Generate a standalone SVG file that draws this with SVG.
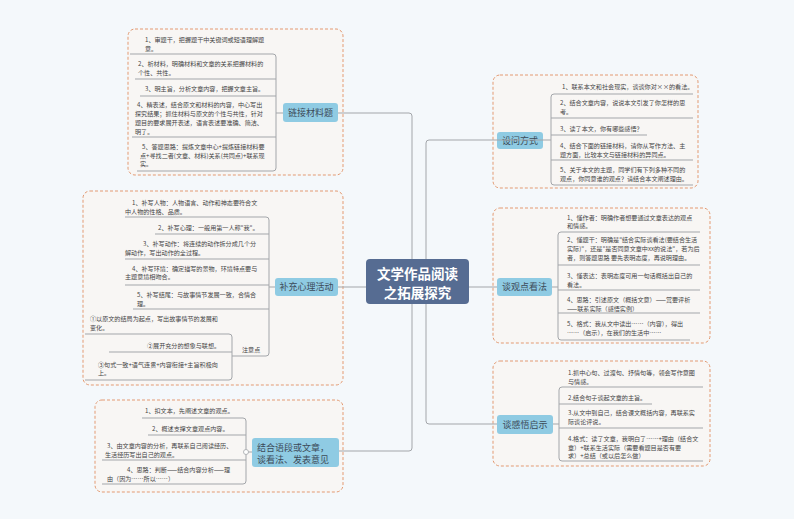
<svg xmlns="http://www.w3.org/2000/svg" width="794" height="519" viewBox="0 0 794 519">
<style>
.bg{fill:#f4f8fb}
.box{fill:#f8f6f4;stroke:#e39a72;stroke-width:1;stroke-dasharray:3 2}
.br{fill:#8fcbe3}
.bt{font-family:"Noto Sans CJK SC","Liberation Sans",sans-serif;font-size:9px;fill:#3c4a58}
.t{font-family:"Noto Sans CJK SC","Liberation Sans",sans-serif;font-size:6.1px;fill:#444}
.ln{fill:none;stroke:#a3a6aa;stroke-width:1}
.ct{font-family:"Noto Sans CJK SC","Liberation Sans",sans-serif;font-size:13.5px;font-weight:bold;fill:#fff}
</style>
<rect class="bg" width="794" height="519"/>
<g id="b1"><rect class="box" x="128" y="29" width="215" height="146" rx="7"/>
<rect class="br" x="283" y="103" width="55" height="19" rx="3"/><text class="bt" x="310.5" y="115.5" text-anchor="middle">链接材料题</text>
<text class="t"><tspan x="145" y="42">1、审题干，把握题干中关键词或短语理解题</tspan><tspan x="145" y="50.5">意。</tspan>
<tspan x="138" y="66">2、析材料，明确材料和文章的关系把握材料的</tspan><tspan x="138" y="74.5">个性、共性。</tspan>
<tspan x="145" y="90.5">3、明主旨，分析文章内容，把握文章主旨。</tspan>
<tspan x="137" y="107">4、精表述，结合原文和材料的内容，中心写出</tspan><tspan x="135" y="116">探究结果；抓住材料与原文的个性与共性，针对</tspan><tspan x="135" y="124.5">题目的要求展开表述，语言表述要准确、简洁、</tspan><tspan x="135" y="133.5">明了。</tspan>
<tspan x="142" y="149">5、答题思路：提炼文章中心+提炼链接材料要</tspan><tspan x="140" y="157.5">点+寻找二者(文章、材料)关系(共同点)+联系现</tspan><tspan x="140" y="166">实。</tspan></text></g>

<g id="b2"><rect class="box" x="83" y="191" width="260" height="194" rx="7"/>
<rect class="br" x="275" y="278" width="63" height="18" rx="3"/><text class="bt" x="306.5" y="290" text-anchor="middle">补充心理活动</text>
<text class="t"><tspan x="132" y="205">1、补写人物：人物语言、动作和神态要符合文</tspan><tspan x="125" y="214">中人物的性格、品质。</tspan>
<tspan x="158" y="229.5">2、补写心理：一般用第一人称"我"。</tspan>
<tspan x="143" y="246">3、补写动作：将连续的动作拆分成几个分</tspan><tspan x="125" y="254.5">解动作，写出动作的全过程。</tspan>
<tspan x="132" y="270.5">4、补写环境：确定描写的景物，环境特点要与</tspan><tspan x="125" y="279">主题意境相吻合。</tspan>
<tspan x="137" y="297">5、补写结尾：与故事情节发展一致，合情合</tspan><tspan x="137" y="305.5">理。</tspan>
<tspan x="242" y="352">注意点</tspan>
<tspan x="90" y="321">①以原文的结局为起点，写出故事情节的发展和</tspan><tspan x="90" y="329.5">变化。</tspan>
<tspan x="147" y="347.5">②展开充分的想象与联想。</tspan>
<tspan x="98" y="367">③句式一致+语气连贯+内容衔接+主旨积极向</tspan><tspan x="98" y="375">上。</tspan></text></g>

<g id="b3"><rect class="box" x="95" y="400" width="248" height="92" rx="7"/>
<rect class="br" x="252" y="438" width="87" height="29" rx="3"/><text class="bt" x="257" y="451">结合语段或文章，</text><text class="bt" x="257" y="463">谈看法、发表意见</text>
<text class="t"><tspan x="145" y="413">1、扣文本，先阐述文章的观点。</tspan>
<tspan x="152" y="430.5">2、概述支撑文章观点内容。</tspan>
<tspan x="107" y="448">3、由文章内容的分析，再联系自己阅读经历、</tspan><tspan x="105" y="456.5">生活经历写出自己的观点。</tspan>
<tspan x="127" y="472">4、思路：判断——结合内容分析——理</tspan><tspan x="107" y="480.5">由（因为……所以……）</tspan></text></g>

<g id="b4"><rect class="box" x="493" y="75" width="205" height="113" rx="7"/>
<rect class="br" x="497" y="132" width="46" height="17" rx="3"/><text class="bt" x="520" y="143.5" text-anchor="middle">设问方式</text>
<text class="t"><tspan x="562" y="89">1、联系本文和社会现实，谈谈你对××的看法。</tspan>
<tspan x="560" y="105">2、结合文章内容，说说本文引发了你怎样的思</tspan><tspan x="560" y="114">考。</tspan>
<tspan x="560" y="130.5">3、读了本文，你有哪些感悟？</tspan>
<tspan x="560" y="148">4、结合下面的链接材料，请你从写作方法、主</tspan><tspan x="560" y="157">题方面，比较本文与链接材料的异同点。</tspan>
<tspan x="560" y="172">5、关于本文的主题，同学们有下列多种不同的</tspan><tspan x="560" y="181">观点，你同意谁的观点？请结合本文阐述理由。</tspan></text></g>

<g id="b5"><rect class="box" x="493" y="208" width="217" height="135" rx="7"/>
<rect class="br" x="497" y="278" width="55" height="18" rx="3"/><text class="bt" x="524.5" y="290" text-anchor="middle">谈观点看法</text>
<text class="t"><tspan x="567" y="220">1、懂作者：明确作者想要通过文章表达的观点</tspan><tspan x="567" y="228">和情感。</tspan>
<tspan x="567" y="242">2、懂题干：明确是"结合实际谈看法(要结合生活</tspan><tspan x="567" y="251">实际)"，还是"是否同意文章中xx的说法"，若为后</tspan><tspan x="567" y="260">者，则答题思路 要先表明态度，再说明理由。</tspan>
<tspan x="567" y="278">3、懂表达：表明态度可用一句话概括出自己的</tspan><tspan x="567" y="287">看法。</tspan>
<tspan x="567" y="302">4、思路：引述原文（概括文意）——赏要评析</tspan><tspan x="567" y="311">——联系实际（感悟实例）</tspan>
<tspan x="567" y="326">5、格式：我从文中读出……（内容），得出</tspan><tspan x="567" y="335">……（启示），在我们的生活中……</tspan></text></g>

<g id="b6"><rect class="box" x="493" y="361" width="217" height="105" rx="7"/>
<rect class="br" x="497" y="415" width="56" height="19" rx="3"/><text class="bt" x="525" y="427.5" text-anchor="middle">谈感悟启示</text>
<text class="t"><tspan x="568" y="375">1.抓中心句、过渡句、抒情句等，领会写作意图</tspan><tspan x="568" y="383.5">与情感。</tspan>
<tspan x="568" y="399.5">2.结合句子谈起文章的主旨。</tspan>
<tspan x="568" y="415">3.从文中到自己，结合课文概括内容，再联系实</tspan><tspan x="568" y="423.5">际谈论评说。</tspan>
<tspan x="568" y="441">4.格式：读了文章，我明白了……+理由（结合文</tspan><tspan x="568" y="449.5">章）+联系生活实际（需要看题目是否有要</tspan><tspan x="568" y="457.5">求）+总结（或以后怎么做）</tspan></text></g>

<g id="connectors">
<path class="ln" d="M338 113 H409 Q412 113 412 116 V448 Q412 451 409 451 H339"/>
<path class="ln" d="M338 287 H366"/>
<path class="ln" d="M543 140 H429 Q426 140 426 143 V421 Q426 424 429 424 H497"/>
<path class="ln" d="M469 287 H497"/>
<path class="ln" d="M130 54 H273 Q276 54 276 57 V168 Q276 171 273 171 H137 M135 79 H276 M140 96 H276 M132 137 H276 M276 113 H283"/>
<path class="ln" d="M125 217 H266 Q269 217 269 220 V353 Q269 356 266 356 H232 M155 234 H269 M125 259 H269 M125 285 H269 M133 309 H269 M269 287 H275"/>
<path class="ln" d="M85 334 H229 Q232 334 232 337 V377 Q232 380 229 380 H85 M109 352 H232"/>
<path class="ln" d="M142 418 H243 Q246 418 246 421 V481 Q246 484 243 484 H102 M148 435 H246 M102 460 H246 M246 452 H252"/>
<path class="ln" d="M693 94 H554 Q551 94 551 97 V182 Q551 185 554 185 H693 M551 118 H693 M551 135 H647 M551 160 H693 M543 140 H551"/>
<path class="ln" d="M700 232 H561 Q558 232 558 235 V337 Q558 340 561 340 H690 M558 265 H700 M558 290 H700 M558 313 H700 M552 287 H558"/>
<path class="ln" d="M703 387 H562 Q559 387 559 390 V458 Q559 461 562 461 H703 M559 404 H652 M559 428 H703 M553 424 H559"/>
<circle cx="246" cy="452" r="2.5" fill="#fff" stroke="#a3a6aa" stroke-width="0.8"/>
</g>
<g id="center"><rect x="366" y="259" width="103" height="45" rx="4" fill="#566c92"/>
<text class="ct" x="417.5" y="278.5" text-anchor="middle">文学作品阅读</text>
<text class="ct" x="417.5" y="297.5" text-anchor="middle">之拓展探究</text></g>
</svg>
